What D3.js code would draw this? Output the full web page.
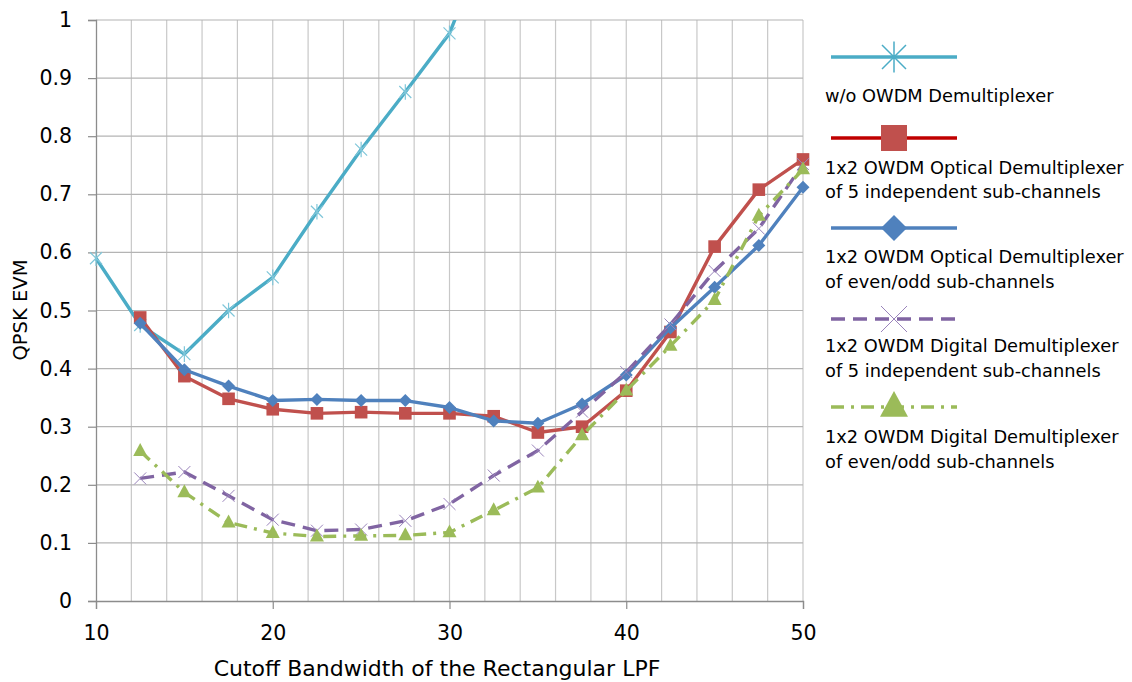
<!DOCTYPE html>
<html>
<head>
<meta charset="utf-8">
<script src="https://cdn.jsdelivr.net/npm/d3@7"></script>
<style>
  html, body { margin: 0; padding: 0; background: #fff; }
  svg { display: block; font-family: "DejaVu Sans", "Open Sans", sans-serif; }
</style>
</head>
<body>
<svg id="chart" width="1132" height="682"></svg>
<script>
// Cutoff bandwidth samples (x) and EVM per configuration
const cutoff = [10, 12.5, 15, 17.5, 20, 22.5, 25, 27.5, 30, 32.5, 35, 37.5, 40, 42.5, 45, 47.5, 50];
const cutoffNoDemux = [10, 12.5, 15, 17.5, 20, 22.5, 25, 27.5, 30, 32.5];
const evmNoDemux = [0.59, 0.475, 0.425, 0.5, 0.557, 0.67, 0.777, 0.876, 0.977, 1.17];
const evmOptical5 = [null, 0.488, 0.387, 0.348, 0.330, 0.323, 0.325, 0.323, 0.323, 0.318, 0.290, 0.300, 0.362, 0.463, 0.610, 0.708, 0.760];
const evmOpticalEO = [null, 0.478, 0.398, 0.370, 0.345, 0.347, 0.345, 0.345, 0.333, 0.310, 0.306, 0.339, 0.389, 0.470, 0.540, 0.612, 0.712];
const evmDigital5 = [null, 0.211, 0.222, 0.181, 0.140, 0.121, 0.123, 0.138, 0.167, 0.216, 0.259, 0.326, 0.394, 0.476, 0.568, 0.641, 0.752];
const evmDigitalEO = [null, 0.258, 0.187, 0.135, 0.117, 0.111, 0.112, 0.113, 0.118, 0.156, 0.195, 0.285, 0.362, 0.439, 0.518, 0.663, 0.743];
const xTicks = [10, 20, 30, 40, 50];
const yTicks = [0, 0.1, 0.2, 0.3, 0.4, 0.5, 0.6, 0.7, 0.8, 0.9, 1];
const legendNames = [
  ["w/o OWDM Demultiplexer"],
  ["1x2 OWDM Optical Demultiplexer", "of 5 independent  sub-channels"],
  ["1x2 OWDM Optical Demultiplexer", "of even/odd sub-channels"],
  ["1x2 OWDM Digital Demultiplexer", "of 5 independent  sub-channels"],
  ["1x2 OWDM Digital Demultiplexer", "of even/odd sub-channels"]
];

const svg = d3.select("#chart");
const L = 96, R = 803, T = 20, B = 601;

const x = d3.scaleLinear().domain([10, 50]).range([L, R]);
const y = d3.scaleLinear().domain([0, 1]).range([B, T]);

// clip region for the plot area
svg.append("defs").append("clipPath").attr("id", "plotClip")
  .append("rect").attr("x", L - 10).attr("y", T).attr("width", R - L + 20).attr("height", B - T + 10);

// grid
const grid = svg.append("g");
grid.selectAll(".vg").data(d3.range(12, 51, 2)).join("line")
  .attr("x1", d => x(d)).attr("x2", d => x(d)).attr("y1", T).attr("y2", B)
  .attr("stroke", "#c8c8c8").attr("stroke-width", 1.2);
grid.selectAll(".hg").data(yTicks.slice(1)).join("line")
  .attr("x1", L).attr("x2", R).attr("y1", d => y(d)).attr("y2", d => y(d))
  .attr("stroke", "#b4b4b4").attr("stroke-width", 1.2);

// axes
const yAxis = d3.axisLeft(y).tickValues(yTicks).tickFormat(d3.format("~g")).tickSize(8).tickPadding(16);
const gy = svg.append("g").attr("transform", `translate(${L},0)`).call(yAxis);
const xAxis = d3.axisBottom(x).tickValues(xTicks).tickSize(8).tickPadding(16);
const gx = svg.append("g").attr("transform", `translate(0,${B})`).call(xAxis);
[gx, gy].forEach(g => {
  g.select(".domain").attr("stroke", "#8c8c8c").attr("stroke-width", 1.3);
  g.selectAll(".tick line").attr("stroke", "#8c8c8c").attr("stroke-width", 1.2);
  g.selectAll(".tick text").attr("fill", "#000").attr("font-size", 20.5).attr("font-family", "'DejaVu Sans', sans-serif");
});

svg.append("text").attr("x", 437).attr("y", 676).attr("text-anchor", "middle")
  .attr("font-size", 22).text("Cutoff Bandwidth of the Rectangular LPF");
svg.append("text").attr("transform", `translate(27,${310}) rotate(-90)`).attr("text-anchor", "middle")
  .attr("font-size", 19.5).text("QPSK EVM");

// markers
function asterisk(g, cx, cy, s, color, w) {
  g.append("path").attr("d", `M${cx - s},${cy - s}L${cx + s},${cy + s}M${cx - s},${cy + s}L${cx + s},${cy - s}M${cx},${cy - s * 1.3}L${cx},${cy + s * 1.3}`)
    .attr("stroke", color).attr("stroke-width", w).attr("fill", "none");
}
function cross(g, cx, cy, s, color, w) {
  g.append("path").attr("d", `M${cx - s},${cy - s}L${cx + s},${cy + s}M${cx - s},${cy + s}L${cx + s},${cy - s}`)
    .attr("stroke", color).attr("stroke-width", w).attr("fill", "none");
}
function square(g, cx, cy, s, color) {
  g.append("rect").attr("x", cx - s).attr("y", cy - s).attr("width", 2 * s).attr("height", 2 * s).attr("fill", color);
}
function diamond(g, cx, cy, s, color) {
  g.append("path").attr("d", `M${cx},${cy - s}L${cx + s},${cy}L${cx},${cy + s}L${cx - s},${cy}Z`).attr("fill", color);
}
function triangle(g, cx, cy, s, color) {
  g.append("path").attr("d", `M${cx},${cy - s * 1.15}L${cx + s},${cy + s * 0.7}L${cx - s},${cy + s * 0.7}Z`).attr("fill", color);
}

const series = [
  { xs: cutoffNoDemux, ys: evmNoDemux, line: "#4BACC6", dash: null,
    draw: (g, cx, cy, big) => asterisk(g, cx, cy, big ? 12 : 6, big ? "#4BACC6" : "#7fc6d9", big ? 1.5 : 1.2) },
  { xs: cutoff, ys: evmOptical5, line: "#C0504D", legendLine: "#C00000", dash: null,
    draw: (g, cx, cy, big) => square(g, cx, cy, big ? 13 : 6.3, "#C0504D") },
  { xs: cutoff, ys: evmOpticalEO, line: "#4F81BD", dash: null,
    draw: (g, cx, cy, big) => diamond(g, cx, cy, big ? 13 : 6.5, "#4F81BD") },
  { xs: cutoff, ys: evmDigital5, line: "#8064A2", dash: "14,8",
    draw: (g, cx, cy, big) => cross(g, cx, cy, big ? 13 : 6, "#9a84bb", 1) },
  { xs: cutoff, ys: evmDigitalEO, line: "#9BBB59", dash: "13,7,3,7",
    draw: (g, cx, cy, big) => triangle(g, cx, cy, big ? 14 : 7, "#9BBB59") }
];

const plot = svg.append("g").attr("clip-path", "url(#plotClip)");
const lineGen = d3.line().x(d => x(d[0])).y(d => y(d[1]));

series.forEach(s => {
  const pts = s.xs.map((v, i) => [v, s.ys[i]]).filter(d => d[1] != null);
  plot.append("path").datum(pts).attr("d", lineGen)
    .attr("fill", "none").attr("stroke", s.line).attr("stroke-width", 3.4)
    .attr("stroke-linejoin", "round")
    .attr("stroke-dasharray", s.dash);
  const mg = plot.append("g");
  pts.forEach(d => s.draw(mg, x(d[0]), y(d[1]), false));
});

// legend
const legY = [57, 138, 228, 319, 407];
const legTextY = [[102], [174, 198], [263, 288], [352, 377], [443, 468]];
const lg = svg.append("g");
series.forEach((s, i) => {
  const ly = legY[i];
  lg.append("line").attr("x1", 831).attr("x2", 957).attr("y1", ly).attr("y2", ly)
    .attr("stroke", s.legendLine || s.line).attr("stroke-width", 3.4).attr("stroke-dasharray", s.dash);
  s.draw(lg, 894, ly, true);
  legendNames[i].forEach((t, j) => {
    lg.append("text").attr("x", 825).attr("y", legTextY[i][j]).attr("font-size", 17.8).attr("fill", "#000").text(t);
  });
});
</script>
</body>
</html>
